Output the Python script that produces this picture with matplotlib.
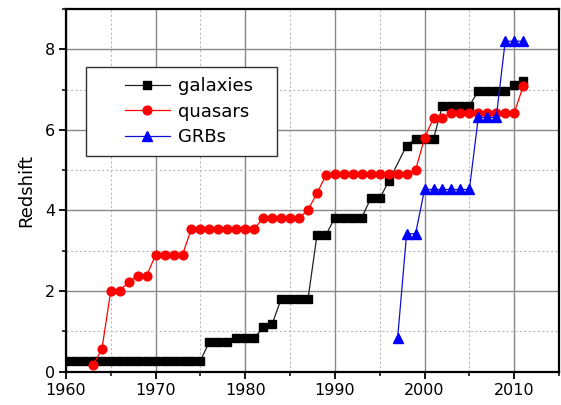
import matplotlib
matplotlib.use("Agg")
import matplotlib.pyplot as plt
from matplotlib.lines import Line2D
from matplotlib.legend_handler import HandlerLine2D
from matplotlib.ticker import MultipleLocator

# ---- data ----
gal_years = list(range(1960, 1997)) + list(range(1998, 2012))
gal_z = ([0.27] * 16 +               # 1960-1975
         [0.74] * 3 +                # 1976-1978
         [0.82] * 3 +                # 1979-1981
         [1.10, 1.18] +              # 1982-1983
         [1.80] * 4 +                # 1984-1987
         [3.39] * 2 +                # 1988-1989
         [3.82] * 4 +                # 1990-1993
         [4.30] * 2 +                # 1994-1995
         [4.72] +                    # 1996
         [5.61] +                    # 1998
         [5.78] * 3 +                # 1999-2001
         [6.60] * 4 +                # 2002-2005
         [6.96] * 4 +                # 2006-2009
         [7.12, 7.21])               # 2010-2011

qso_years = list(range(1963, 2012))
qso_z = ([0.158, 0.55, 2.01, 2.01, 2.22, 2.38, 2.38] +   # 1963-1969
         [2.90] * 4 +                                    # 1970-1973
         [3.55] * 8 +                                    # 1974-1981
         [3.80] * 5 +                                    # 1982-1986
         [4.02, 4.42, 4.88] +                            # 1987-1989
         [4.90] * 9 +                                    # 1990-1998
         [5.00, 5.80, 6.29, 6.29] +                      # 1999-2002
         [6.42] * 8 +                                    # 2003-2010
         [7.08])                                         # 2011

grb_years = list(range(1997, 2012))
grb_z = ([0.835, 3.42, 3.42] +
         [4.52] * 6 +
         [6.31] * 3 +
         [8.2] * 3)

labels = ["galaxies", "quasars", "GRBs"]

# ---- figure ----
plt.rcParams['font.family'] = ['DejaVu Sans']
fig = plt.figure(figsize=(5.61, 4.05), dpi=100)
ax = fig.add_axes([66 / 561, 33.5 / 405, 493 / 561, 362.5 / 405])

ax.plot(gal_years, gal_z, color="#202020", lw=0.9, marker="s", ms=5.6,
        mfc="black", mec="black", label=labels[0], zorder=3)
ax.plot(qso_years, qso_z, color="red", lw=0.9, marker="o", ms=6.3,
        mfc="red", mec="red", label=labels[1], zorder=4)
ax.plot(grb_years, grb_z, color="#1010d0", lw=0.9, marker="^", ms=6.8,
        mfc="blue", mec="blue", label=labels[2], zorder=5)

ax.set_xlim(1960, 2015)
ax.set_ylim(0, 9)
ax.xaxis.set_major_locator(MultipleLocator(10))
ax.xaxis.set_minor_locator(MultipleLocator(5))
ax.yaxis.set_major_locator(MultipleLocator(2))
ax.yaxis.set_minor_locator(MultipleLocator(1))

ax.grid(which="major", color="#888888", lw=1.0, ls="-")
ax.grid(which="minor", color="#bbbbbb", lw=0.8, ls=(0, (2, 2)))
ax.set_axisbelow(True)

for s in ax.spines.values():
    s.set_linewidth(1.6)
    s.set_color("black")

ax.tick_params(which="major", direction="out", length=5, width=1.3,
               labelsize=11.5, pad=3, top=False, right=False)
ax.tick_params(which="minor", direction="out", length=3, width=1.1,
               top=False, right=False)

ax.set_ylabel("Redshift", fontsize=13, labelpad=7)

leg = ax.legend(loc="upper left", bbox_to_anchor=(0.04, 0.605, 0.388, 0.235),
                mode="expand",
                borderaxespad=0, fontsize=13, frameon=True, fancybox=False,
                edgecolor="#303030", framealpha=1, handlelength=4.1,
                handletextpad=0.45, labelspacing=0.42, borderpad=0.55,
                handler_map={Line2D: HandlerLine2D(xpad=1.6)})
leg.get_frame().set_linewidth(1.0)

fig.savefig("out.png", dpi=100)
